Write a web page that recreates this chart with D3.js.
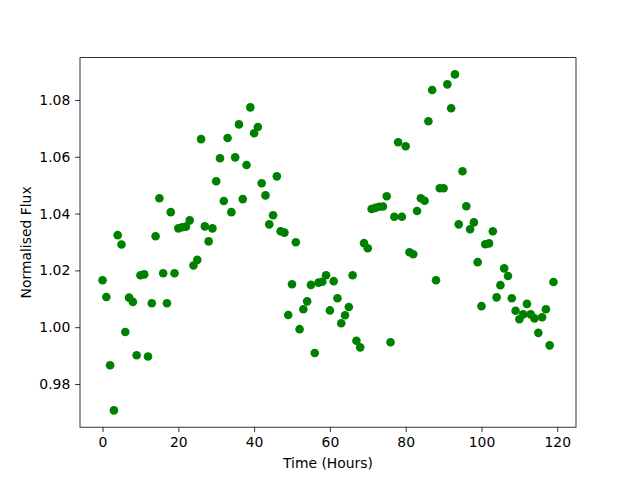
<!DOCTYPE html>
<html>
<head>
<meta charset="utf-8">
<script src="https://cdn.jsdelivr.net/npm/d3@7"></script>
<style>
  body { margin: 0; background: #fff; }
  text { font-family: "DejaVu Sans", sans-serif; }
</style>
</head>
<body>
<div id="chart"></div>
<script>
// time in hours
const hours = [
    0, 1, 2, 3, 4, 5, 6, 7, 8, 9, 10, 11, 12, 13, 14, 15, 16, 17, 18, 19,
    20, 21, 22, 23, 24, 25, 26, 27, 28, 29, 30, 31, 32, 33, 34, 35, 36, 37, 38, 39,
    40, 41, 42, 43, 44, 45, 46, 47, 48, 49, 50, 51, 52, 53, 54, 55, 56, 57, 58, 59,
    60, 61, 62, 63, 64, 65, 66, 67, 68, 69, 70, 71, 72, 73, 74, 75, 76, 77, 78, 79,
    80, 81, 82, 83, 84, 85, 86, 87, 88, 89, 90, 91, 92, 93, 94, 95, 96, 97, 98, 99,
    100, 101, 102, 103, 104, 105, 106, 107, 108, 109, 110, 111, 112, 113, 114, 115, 116, 117, 118, 119
];
// normalised flux
const flux = [
    1.0165, 1.0106, 0.9866, 0.9707, 1.0324, 1.0291, 0.9983, 1.0104, 1.0089, 0.9901,
    1.0183, 1.0186, 0.9897, 1.0084, 1.0320, 1.0454, 1.0190, 1.0084, 1.0405, 1.0190,
    1.0348, 1.0352, 1.0354, 1.0376, 1.0217, 1.0237, 1.0662, 1.0355, 1.0302, 1.0348,
    1.0514, 1.0595, 1.0444, 1.0666, 1.0405, 1.0598, 1.0714, 1.0451, 1.0571, 1.0774,
    1.0683, 1.0705, 1.0507, 1.0464, 1.0362, 1.0394, 1.0531, 1.0338, 1.0333, 1.0043,
    1.0151, 1.0299, 0.9993, 1.0063, 1.0091, 1.0149, 0.9909, 1.0157, 1.0160, 1.0183,
    1.0059, 1.0162, 1.0102, 1.0014, 1.0042, 1.0071, 1.0183, 0.9952, 0.9929, 1.0296,
    1.0278, 1.0416, 1.0420, 1.0424, 1.0425, 1.0461, 0.9947, 1.0389, 1.0651, 1.0389,
    1.0637, 1.0264, 1.0257, 1.0409, 1.0454, 1.0445, 1.0725, 1.0835, 1.0165, 1.0489,
    1.0489, 1.0855, 1.0771, 1.0890, 1.0362, 1.0549, 1.0426, 1.0345, 1.0369, 1.0229,
    1.0074, 1.0292, 1.0295, 1.0338, 1.0105, 1.0148, 1.0207, 1.0180, 1.0102, 1.0058,
    1.0028, 1.0045, 1.0082, 1.0045, 1.0031, 0.9980, 1.0035, 1.0063, 0.9936, 1.0159
];
const xTicks = [0, 20, 40, 60, 80, 100, 120];
const yTicks = [0.98, 1.00, 1.02, 1.04, 1.06, 1.08];

scatter();

function scatter() {
    const width = 640;
    const height = 480;
    const margin = {top: 57.6, right: 64, bottom: 52.8, left: 80};

    const svg = d3.select("#chart").append("svg")
        .attr("width", width)
        .attr("height", height);

    // matplotlib style 5% margins
    const xpad = (d3.max(hours) - d3.min(hours)) * 0.05;
    const ypad = (d3.max(flux) - d3.min(flux)) * 0.05;

    const x = d3.scaleLinear()
        .domain([d3.min(hours) - xpad, d3.max(hours) + xpad])
        .range([margin.left, width - margin.right]);
    const y = d3.scaleLinear()
        .domain([d3.min(flux) - ypad, d3.max(flux) + ypad])
        .range([height - margin.bottom, margin.top]);

    const xAxis = svg.append("g")
        .attr("transform", `translate(0,${height - margin.bottom})`)
        .call(d3.axisBottom(x).tickValues(xTicks).tickFormat(d3.format("d")).tickSizeOuter(0).tickSize(4.86).tickPadding(4.86));
    const yAxis = svg.append("g")
        .attr("transform", `translate(${margin.left},0)`)
        .call(d3.axisLeft(y).tickValues(yTicks).tickFormat(d3.format(".2f")).tickSizeOuter(0).tickSize(4.86).tickPadding(4.86));

    [xAxis, yAxis].forEach(a => {
        a.select(".domain").remove();
        a.selectAll("line").attr("stroke", "#000").attr("stroke-width", 0.8);
        a.selectAll("text").attr("fill", "#000").style("font-size", "13.9px").style("font-family", "DejaVu Sans");
    });

    // frame
    svg.append("rect")
        .attr("x", margin.left)
        .attr("y", margin.top)
        .attr("width", width - margin.left - margin.right)
        .attr("height", height - margin.top - margin.bottom)
        .attr("fill", "none")
        .attr("stroke", "#000")
        .attr("stroke-width", 0.8);

    svg.append("g")
        .selectAll("circle")
        .data(hours)
        .join("circle")
            .attr("cx", d => x(d))
            .attr("cy", (d, i) => y(flux[i]))
            .attr("r", 4.3)
            .attr("fill", "green");

    svg.append("text")
        .attr("x", (margin.left + width - margin.right) / 2)
        .attr("y", 468)
        .attr("text-anchor", "middle")
        .style("font-size", "13.9px")
        .text("Time (Hours)");

    svg.append("text")
        .attr("transform", `translate(31,${(margin.top + height - margin.bottom) / 2}) rotate(-90)`)
        .attr("text-anchor", "middle")
        .style("font-size", "13.9px")
        .text("Normalised Flux");
}
</script>
</body>
</html>
